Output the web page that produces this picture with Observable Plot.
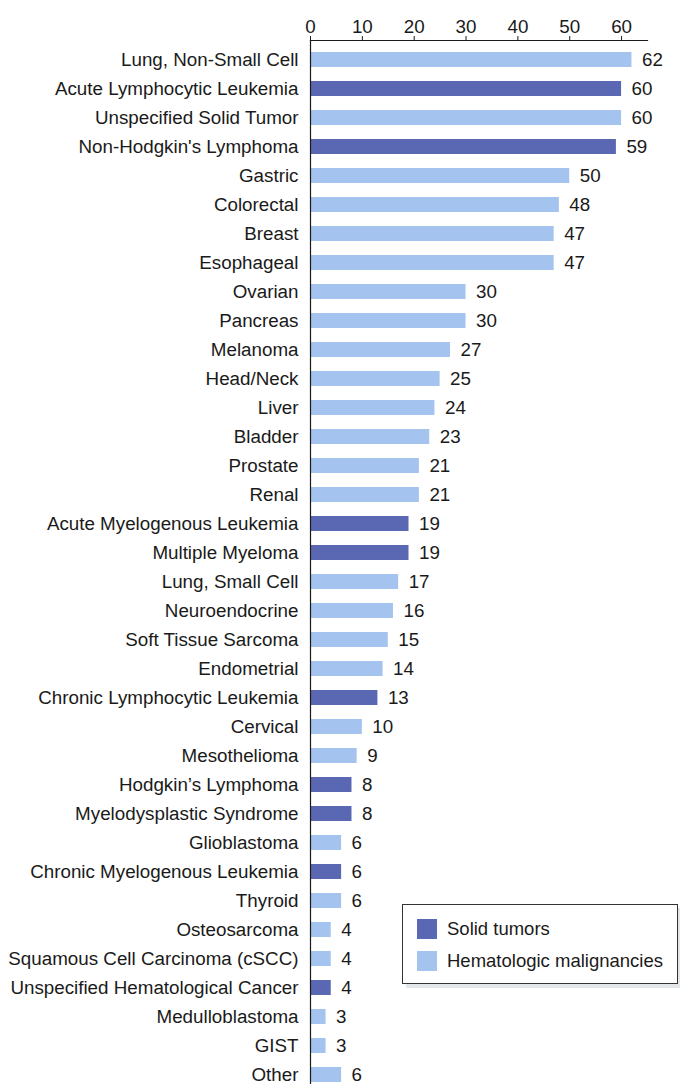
<!DOCTYPE html>
<html><head><meta charset="utf-8">
<script src="https://cdn.jsdelivr.net/npm/d3@7"></script>
<script src="https://cdn.jsdelivr.net/npm/@observablehq/plot@0.6"></script>
<style>
html,body{margin:0;padding:0;overflow:hidden;background:#fff;}
#wrap{position:relative;width:680px;height:1084px;overflow:hidden;}
.legend{position:absolute;left:402px;top:904px;width:274px;height:78px;border:1px solid #333;background:#fff;box-shadow:4px 4px 0 #e4e7ea;font-family:"Liberation Sans",Arial,sans-serif;font-size:18.5px;color:#1a1a1a;}
.item{position:absolute;left:14px;display:flex;align-items:center;height:20px;}
.sw{width:20px;height:20px;margin-right:10px;flex:none;}
</style>
</head><body>
<div id="wrap"></div>
<script>
const categories = ["Lung, Non-Small Cell","Acute Lymphocytic Leukemia","Unspecified Solid Tumor","Non-Hodgkin's Lymphoma","Gastric","Colorectal","Breast","Esophageal","Ovarian","Pancreas","Melanoma","Head/Neck","Liver","Bladder","Prostate","Renal","Acute Myelogenous Leukemia","Multiple Myeloma","Lung, Small Cell","Neuroendocrine","Soft Tissue Sarcoma","Endometrial","Chronic Lymphocytic Leukemia","Cervical","Mesothelioma","Hodgkin\u2019s Lymphoma","Myelodysplastic Syndrome","Glioblastoma","Chronic Myelogenous Leukemia","Thyroid","Osteosarcoma","Squamous Cell Carcinoma (cSCC)","Unspecified Hematological Cancer","Medulloblastoma","GIST","Other"];
const values = [62,60,60,59,50,48,47,47,30,30,27,25,24,23,21,21,19,19,17,16,15,14,13,10,9,8,8,6,6,6,4,4,4,3,3,6];
// legend group as drawn in the picture (dark = first legend entry)
const darkCategories = ["Acute Lymphocytic Leukemia","Non-Hodgkin's Lymphoma","Acute Myelogenous Leukemia","Multiple Myeloma","Chronic Lymphocytic Leukemia","Hodgkin\u2019s Lymphoma","Myelodysplastic Syndrome","Chronic Myelogenous Leukemia","Unspecified Hematological Cancer"];
const legendLabels = ["Solid tumors","Hematologic malignancies"];
const legendColors = ["#5a67b3","#a4c4ef"];
const xTicks = [0,10,20,30,40,50,60];

const data = categories.map((name, i) => ({
  name,
  value: values[i],
  group: darkCategories.includes(name) ? legendLabels[0] : legendLabels[1]
}));

const font = '"Liberation Sans", Arial, sans-serif';
const chart = Plot.plot({
  width: 680,
  height: 1094,
  marginTop: 40,
  marginLeft: 310,
  marginRight: 33,
  marginBottom: 0,
  style: {fontFamily: font, fontSize: "18.8px", color: "#1a1a1a", background: "#fff"},
  x: {domain: [0, 65], axis: "top", ticks: xTicks, tickSize: 5, tickPadding: 3, label: null, tickFormat: d => String(d)},
  y: {domain: categories, paddingInner: 0.48, paddingOuter: 0.40, tickSize: 0, tickPadding: 12, label: null},
  color: {domain: legendLabels, range: legendColors},
  marks: [
    Plot.barX(data, {x: "value", y: "name", fill: "group"}),
    Plot.text(data, {x: "value", y: "name", text: d => String(d.value), dx: 10, textAnchor: "start", fontSize: 18.8, fill: "#1a1a1a"}),
    Plot.ruleX([0], {stroke: "#1a1a1a", strokeWidth: 1.2}),
    Plot.frame({anchor: "top", stroke: "#1a1a1a", strokeWidth: 1.2})
  ]
});
const wrap = document.getElementById("wrap");
wrap.appendChild(chart);

const legend = document.createElement("div");
legend.className = "legend";
legendLabels.forEach((lab, i) => {
  const item = document.createElement("div");
  item.className = "item";
  item.style.top = (14 + i * 32) + "px";
  const sw = document.createElement("span");
  sw.className = "sw";
  sw.style.background = legendColors[i];
  const t = document.createElement("span");
  t.textContent = lab;
  item.appendChild(sw);
  item.appendChild(t);
  legend.appendChild(item);
});
wrap.appendChild(legend);
</script>
</body></html>
